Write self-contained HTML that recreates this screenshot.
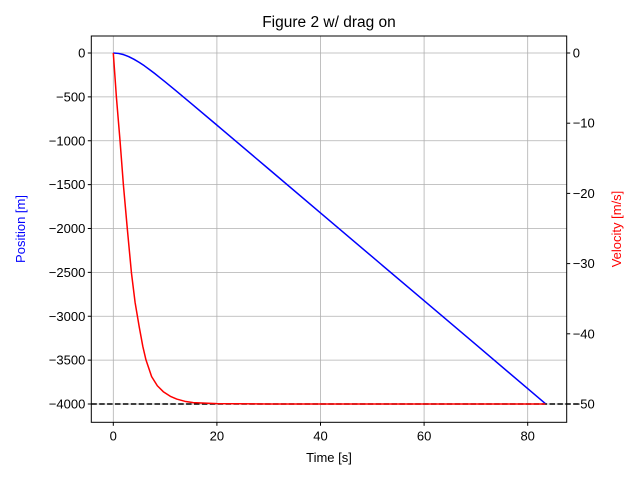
<!DOCTYPE html>
<html><head><meta charset="utf-8"><style>
body{margin:0;background:#fff;}
svg text{font-family:"Liberation Sans","DejaVu Sans",sans-serif;font-size:13px;}
</style></head><body>
<svg id="chart" width="640" height="480">
<text x="329" y="27" text-anchor="middle" style="font-size:15.5px">Figure 2 w/ drag on</text>
<text x="329" y="462" text-anchor="middle">Time [s]</text>
<text transform="translate(25,229) rotate(-90)" text-anchor="middle" fill="blue">Position [m]</text>
<text transform="translate(621,229) rotate(-90)" text-anchor="middle" fill="red">Velocity [m/s]</text>
<g id="grid"></g><g id="marks"></g><g id="axes"></g>
</svg>
<script>
const xTicks=[0,20,40,60,80];
const yTicks=[0,-500,-1000,-1500,-2000,-2500,-3000,-3500,-4000];
const y2Ticks=[0,-10,-20,-30,-40,-50];
const posT=[0,1,2,3,4,5,6,7,8,9,10,12,15,20,30,40,50,60,70,83.4];
const posV=[0,-5,-19,-42,-72,-107,-146,-189,-234,-281,-328,-425,-573,-822,-1322,-1823,-2323,-2823,-3323,-3995];
const velT=[0,0.6,1.3,1.95,2.7,3.5,4.2,5.0,5.7,6.3,7.4,8.5,9.65,11,12.24,14,15.44,20,30,40,50,60,70,83.4];
const velV=[0,-6.3,-12.5,-18.8,-25,-31.3,-35.5,-39,-41.8,-43.7,-46.1,-47.4,-48.25,-48.9,-49.3,-49.65,-49.8,-49.95,-50,-50,-50,-50,-50,-50];
const L=91.3,R=566.7,T=36,B=422.3;
const sx=t=>113.3+t*5.18;
const sy=v=>53+(v/-4000)*351;
const sy2=v=>53+(v/-50)*351;
const NS="http://www.w3.org/2000/svg";
function mk(tag,attrs,parent,text){const e=document.createElementNS(NS,tag);for(const k in attrs)e.setAttribute(k,attrs[k]);if(text!==undefined)e.textContent=text;document.getElementById(parent).appendChild(e);return e;}
xTicks.forEach(t=>{
 const g=mk('line',{x1:sx(t),x2:sx(t),y1:T,y2:B,stroke:'#b0b0b0','stroke-width':0.8},'grid');
 
 
 mk('line',{x1:sx(t),x2:sx(t),y1:B,y2:B+3.5,stroke:'#000'},'axes');
 const l=mk('text',{x:sx(t),y:B+18,'text-anchor':'middle'},'axes',String(t));
 
 
});
yTicks.forEach(v=>{
 const g=mk('line',{x1:L,x2:R,y1:sy(v),y2:sy(v),stroke:'#b0b0b0','stroke-width':0.8},'grid');
 
 
 mk('line',{x1:L-3.5,x2:L,y1:sy(v),y2:sy(v),stroke:'#000'},'axes');
 const l=mk('text',{x:L-6,y:sy(v)+4.5,'text-anchor':'end'},'axes',(v<0?'\u2212':'')+Math.abs(v));
 
 
});
y2Ticks.forEach(v=>{
 mk('line',{x1:R,x2:R+3.5,y1:sy2(v),y2:sy2(v),stroke:'#000'},'axes');
 const l=mk('text',{x:R+6,y:sy2(v)+4.5},'axes',(v<0?'\u2212':'')+Math.abs(v));
 
 
});
const h=mk('line',{x1:L,x2:R+14,y1:sy(-4000),y2:sy(-4000),stroke:'#000','stroke-width':1.5,'stroke-dasharray':'5.5,2.4'},'marks');


const p=mk('polyline',{points:posT.map((t,i)=>sx(t)+','+sy(posV[i])).join(' '),fill:'none',stroke:'blue','stroke-width':1.5,'stroke-linejoin':'round'},'marks');


const v=mk('polyline',{points:velT.map((t,i)=>sx(t)+','+sy2(velV[i])).join(' '),fill:'none',stroke:'red','stroke-width':1.5,'stroke-linejoin':'round'},'marks');


const f=mk('rect',{x:L,y:T,width:R-L,height:B-T,fill:'none',stroke:'#000','stroke-width':1},'axes');


</script>
</body></html>
